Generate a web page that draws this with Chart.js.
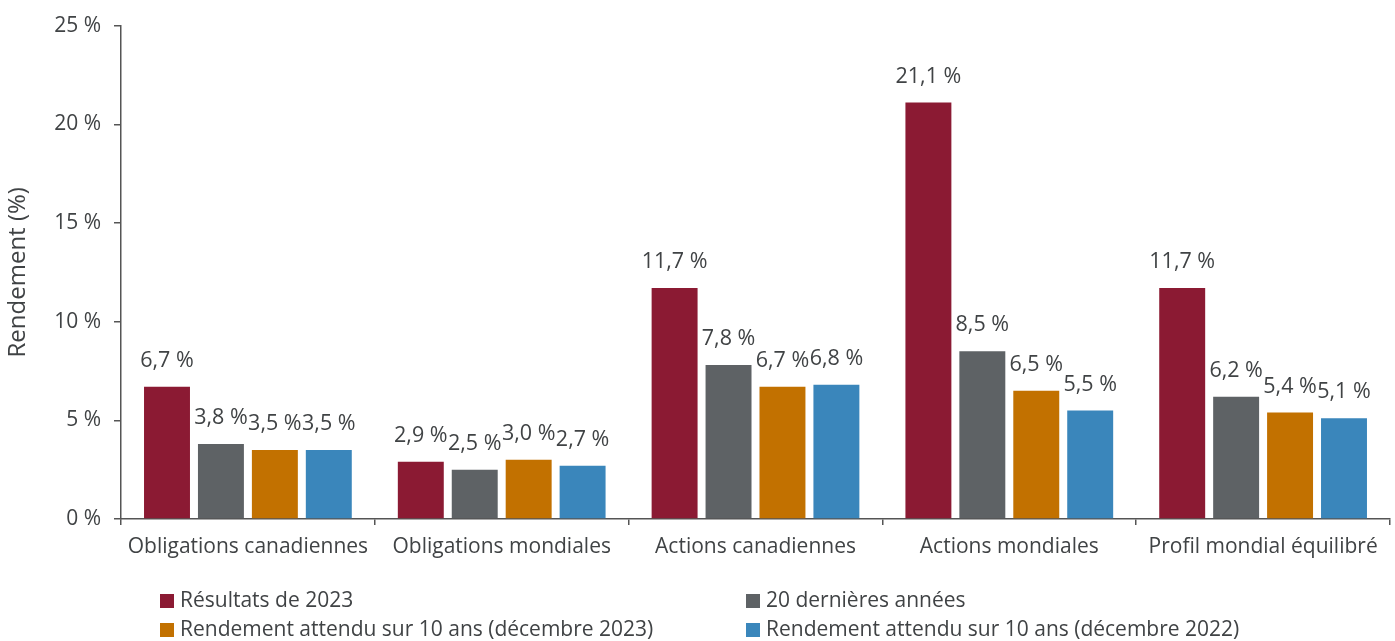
<!DOCTYPE html>
<html>
<head>
<meta charset="utf-8">
<script src="https://cdn.jsdelivr.net/npm/chart.js@4"></script>
<style>
  html, body { margin: 0; padding: 0; background: #fff; }
  #wrap { width: 1395px; height: 641px; }
</style>
</head>
<body>
<div id="wrap"><canvas id="rendementChart"></canvas></div>
<script>
const categories = [
    "Obligations canadiennes",
    "Obligations mondiales",
    "Actions canadiennes",
    "Actions mondiales",
    "Profil mondial équilibré",
];
const resultats2023 = [6.7, 2.9, 11.7, 21.1, 11.7];
const vingtAns = [3.8, 2.5, 7.8, 8.5, 6.2];
const attendu2023 = [3.5, 3.0, 6.7, 6.5, 5.4];
const attendu2022 = [3.5, 2.7, 6.8, 5.5, 5.1];
const yTicks = [0, 5, 10, 15, 20, 25];

const textColor = "#404345";
const fontFamily = "'Open Sans', Lato, sans-serif";

function pct(v) {
    return v.toLocaleString("fr-CA", { minimumFractionDigits: 1, maximumFractionDigits: 1 }) + " %";
}

// values above bars
const barLabels = {
    id: "barLabels",
    afterDatasetsDraw(chart) {
        const ctx = chart.ctx;
        ctx.save();
        ctx.font = "21.5px " + fontFamily;
        ctx.fillStyle = textColor;
        ctx.textAlign = "center";
        ctx.textBaseline = "middle";
        chart.data.datasets.forEach((ds, i) => {
            chart.getDatasetMeta(i).data.forEach((bar, j) => {
                ctx.fillText(pct(ds.data[j]), bar.x, bar.y - 26);
            });
        });
        ctx.restore();
    },
};

// two-column legend under the axis
const legendGrid = {
    id: "legendGrid",
    afterDraw(chart) {
        const ctx = chart.ctx;
        const cols = [160, 746];
        const rows = [601, 630];
        ctx.save();
        ctx.font = "21px " + fontFamily;
        ctx.textBaseline = "middle";
        ctx.textAlign = "left";
        chart.data.datasets.forEach((ds, i) => {
            const x = cols[i % 2];
            const y = rows[Math.floor(i / 2)];
            ctx.fillStyle = ds.backgroundColor;
            ctx.fillRect(x, y - 7, 14, 14);
            ctx.fillStyle = textColor;
            ctx.fillText(ds.label, x + 20, y);
        });
        ctx.restore();
    },
};

let ctx = document.getElementById("rendementChart").getContext("2d");
let rendementChart = new Chart(ctx, {
    type: "bar",
    data: {
        labels: categories,
        datasets: [
            {
                label: "Résultats de 2023",
                data: resultats2023,
                backgroundColor: "#8B1A33",
            },
            {
                label: "20 dernières années",
                data: vingtAns,
                backgroundColor: "#5E6265",
            },
            {
                label: "Rendement attendu sur 10 ans (décembre 2023)",
                data: attendu2023,
                backgroundColor: "#C27100",
            },
            {
                label: "Rendement attendu sur 10 ans (décembre 2022)",
                data: attendu2022,
                backgroundColor: "#3A86BB",
            },
        ],
    },
    options: {
        responsive: true,
        maintainAspectRatio: false,
        animation: false,
        layout: { padding: { top: 25, right: 5, bottom: 70, left: 0 } },
        categoryPercentage: 0.85,
        barPercentage: 0.852,
        plugins: {
            legend: { display: false },
            tooltip: { enabled: false },
        },
        scales: {
            x: {
                grid: {
                    offset: true,
                    drawOnChartArea: false,
                    drawTicks: true,
                    tickLength: 6,
                    color: "#555",
                    lineWidth: 1.5,
                },
                border: { color: "#555", width: 1.5 },
                ticks: {
                    color: textColor,
                    font: { size: 21, family: fontFamily },
                    padding: 9,
                    maxRotation: 0,
                    autoSkip: false,
                },
                afterFit(scale) {
                    scale.height = 52;
                },
            },
            y: {
                min: 0,
                max: 25,
                afterBuildTicks(scale) {
                    scale.ticks = yTicks.map((v) => ({ value: v }));
                },
                grid: {
                    drawOnChartArea: false,
                    drawTicks: true,
                    tickLength: 7,
                    color: "#555",
                    lineWidth: 1.5,
                },
                border: { color: "#555", width: 1.5 },
                ticks: {
                    color: textColor,
                    font: { size: 21, family: fontFamily },
                    padding: 13,
                    callback: (v) => v + " %",
                },
                title: {
                    display: true,
                    text: "Rendement (%)",
                    color: textColor,
                    font: { size: 24, family: fontFamily },
                    padding: { top: 4, bottom: 0 },
                },
                afterFit(scale) {
                    scale.width = 121;
                },
            },
        },
    },
    plugins: [barLabels, legendGrid],
});
</script>
</body>
</html>
